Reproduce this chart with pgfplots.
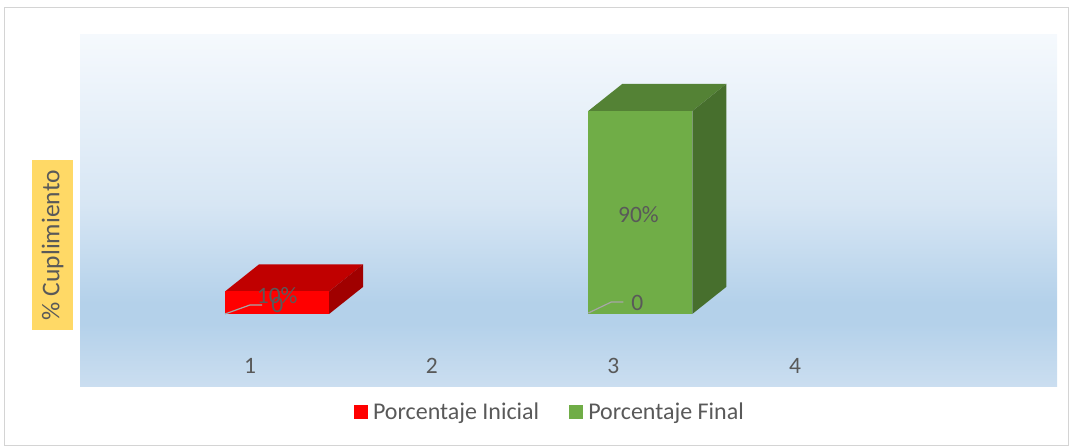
\documentclass[border=0pt]{standalone}
\usepackage{pgfplots}
\pgfplotsset{compat=1.18}
\usepackage{fontspec}
\setmainfont{Carlito}
\definecolor{txt}{HTML}{595959}
\definecolor{redF}{HTML}{FF0000}
\definecolor{redT}{HTML}{C00000}
\definecolor{redS}{HTML}{A00000}
\definecolor{grnF}{HTML}{70AD47}
\definecolor{grnT}{HTML}{548235}
\definecolor{grnS}{HTML}{476F2D}
\definecolor{bgT}{HTML}{F5F9FD}
\definecolor{bgM}{HTML}{D7E6F4}
\definecolor{bgD}{HTML}{B4D1EA}
\definecolor{bgB}{HTML}{CBDEF0}
\definecolor{lblY}{HTML}{FFD966}
\definecolor{lead}{HTML}{A6A6A6}
\pgfdeclareverticalshading{plotbg}{100bp}{color(0bp)=(bgB); color(25bp)=(bgB); color(34bp)=(bgD); color(37bp)=(bgD); color(51bp)=(bgM); color(75bp)=(bgT); color(100bp)=(bgT)}
\begin{document}
\begin{tikzpicture}[x=1pt,y=1pt]
\path[use as bounding box] (0,0) rectangle (1069,446);
\draw[color=black!17, line width=1pt] (4.5,0.5) rectangle (1068.5,438);
\begin{axis}[at={(80pt,59pt)}, anchor=south west, scale only axis,
  width=977pt, height=352pt,
  xmin=0.063, xmax=5.443, ymin=-32.4, ymax=123.7,
  axis line style={draw=none}, major tick length=0pt,
  ytick=\empty, xtick={1,2,3,4}, xticklabels={1,2,3,4},
  xticklabel style={anchor=center, yshift=21pt, font=\fontsize{23.5}{27}\selectfont, text=txt},
  axis background/.style={shading=plotbg},
  ylabel={\% Cuplimiento},
  ylabel style={at={(axis description cs:-0.0281,0.403)}, anchor=center, fill=lblY,
    inner xsep=10pt, minimum height=41pt, text=txt, font=\fontsize{25.5}{29}\selectfont},
  legend style={at={(axis description cs:0.481,-0.071)}, anchor=center, draw=none, fill=none,
    legend columns=2, font=\fontsize{24}{28}\selectfont, text=txt,
    /tikz/every odd column/.append style={column sep=3pt},
    /tikz/every even column/.append style={column sep=28pt}},
  legend image code/.code={\fill[#1] (0pt,-7pt) rectangle (14pt,7pt);},
]
\addlegendimage{fill=redF, draw=none}
\addlegendentry{Porcentaje Inicial}
\addlegendimage{fill=grnF, draw=none}
\addlegendentry{Porcentaje Final}
% Porcentaje Inicial: category 1, value 10
\addplot[fill=redT, draw=none, forget plot] coordinates {(0.862,10) (1.435,10) (1.622,22) (1.049,22)} -- cycle;
\addplot[fill=redS, draw=none, forget plot] coordinates {(1.435,0) (1.622,12) (1.622,22) (1.435,10)} -- cycle;
\addplot[fill=redF, draw=none, forget plot] coordinates {(0.862,0) (1.435,0) (1.435,10) (0.862,10)} -- cycle;
% Porcentaje Final: category 3, value 90
\addplot[fill=grnT, draw=none, forget plot] coordinates {(2.862,90) (3.435,90) (3.622,102) (3.049,102)} -- cycle;
\addplot[fill=grnS, draw=none, forget plot] coordinates {(3.435,0) (3.622,12) (3.622,102) (3.435,90)} -- cycle;
\addplot[fill=grnF, draw=none, forget plot] coordinates {(2.862,0) (3.435,0) (3.435,90) (2.862,90)} -- cycle;
% leader lines and labels
\draw[lead, line width=1.2pt] (axis cs:0.862,0) -- (axis cs:1.0,4.0) -- (axis cs:1.066,4.0);
\draw[lead, line width=1.2pt] (axis cs:2.862,0.4) -- (axis cs:2.989,5.3) -- (axis cs:3.055,5.3);
\node[text=txt, font=\fontsize{23.5}{27}\selectfont] at (axis cs:1.149,8.0) {10\%};
\node[text=txt, font=\fontsize{23.5}{27}\selectfont] at (axis cs:1.149,4.0) {0};
\node[text=txt, font=\fontsize{23.5}{27}\selectfont] at (axis cs:3.138,43.9) {90\%};
\node[text=txt, font=\fontsize{23.5}{27}\selectfont] at (axis cs:3.132,4.9) {0};
\end{axis}
\end{tikzpicture}
\end{document}
